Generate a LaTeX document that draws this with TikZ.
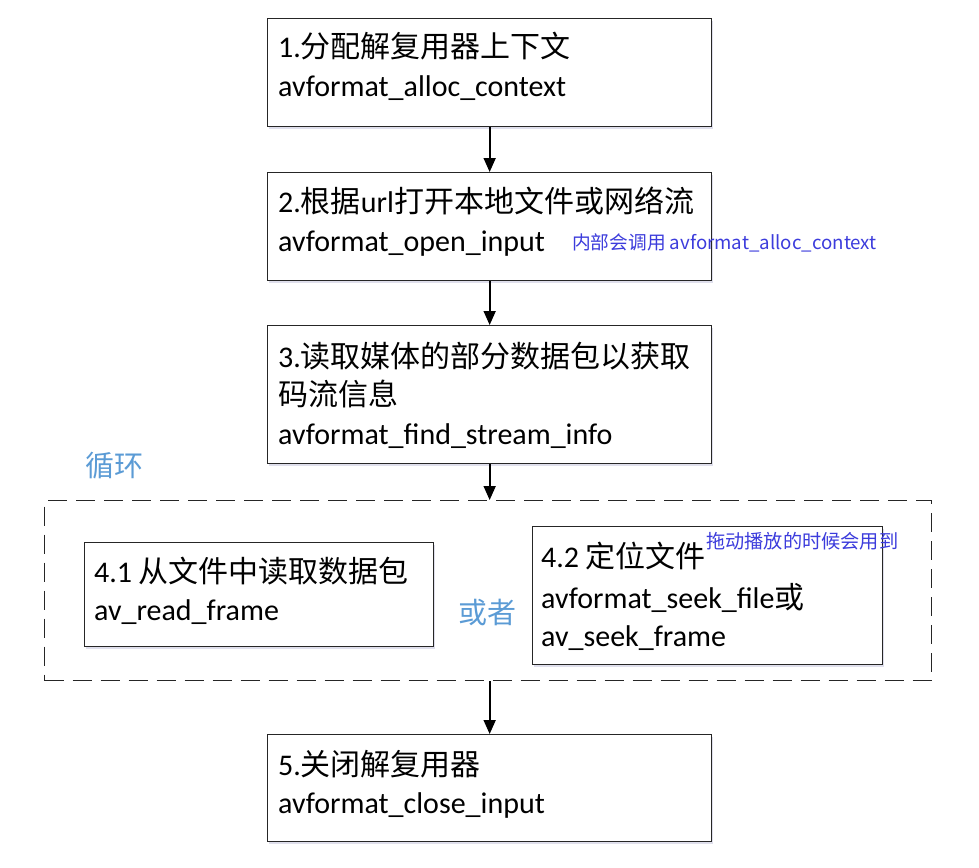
\documentclass[tikz,border=0pt]{standalone}
\usepackage{fontspec}
\setmainfont{Carlito}
\newfontfamily\cjk{Noto Sans CJK SC}
\usetikzlibrary{arrows.meta,shadows}
\definecolor{loopblue}{RGB}{91,155,213}
\definecolor{noteblue}{RGB}{60,60,220}
\definecolor{boxline}{RGB}{38,38,38}
\newcommand{\zh}[1]{{\cjk\fontsize{30}{36}\selectfont #1}}
\begin{document}
\begin{tikzpicture}[x=1pt,y=-1pt,
  box/.style={draw=boxline, line width=1.3pt, fill=white, anchor=north west, inner sep=0pt,
    drop shadow={shadow xshift=1pt, shadow yshift=-2.5pt, fill=blue!25!gray, opacity=0.2}},
  loopbox/.style={draw=boxline, line width=1.4pt, dash pattern=on 19pt off 9pt, anchor=north west, inner sep=0pt},
  txt/.style={anchor=base west, inner sep=0pt, font=\fontsize{30}{36}\selectfont},
  note/.style={anchor=base west, inner sep=0pt, text=noteblue, font=\cjk\fontsize{18.7}{23}\selectfont},
  tag/.style={anchor=base west, inner sep=0pt, text=loopblue, font=\cjk\fontsize{29}{35}\selectfont},
  arr/.style={line width=1.8pt, -{Triangle[length=14pt,width=12pt]}}]
\useasboundingbox (0,0) rectangle (979,867);

% loop frame
\node[loopbox, minimum width=887pt, minimum height=180pt] (loop) at (44,500) {};

% boxes
\node[box, minimum width=444pt, minimum height=108pt] (b1) at (267,18) {};
\node[box, minimum width=444pt, minimum height=108pt] (b2) at (267,172) {};
\node[box, minimum width=444pt, minimum height=138pt] (b3) at (267,325) {};
\node[box, minimum width=349pt, minimum height=104pt] (b41) at (84,542) {};
\node[box, minimum width=350pt, minimum height=138pt] (b42) at (532,526) {};
\node[box, minimum width=444pt, minimum height=107pt] (b5) at (267,734) {};

% texts
\node[txt] (t1a) at (278,58) {1.\zh{分配解复用器上下文}};
\node[txt] (t1b) at (278,96) {avformat\_alloc\_context};

\node[txt] (t2a) at (278,212) {2.\zh{根据}url\zh{打开本地文件或网络流}};
\node[txt] (t2b) at (278,251) {avformat\_open\_input};
\node[note] (n2) at (572,249) {内部会调用 avformat\_alloc\_context};

\node[txt] (t3a) at (278,367) {3.\zh{读取媒体的部分数据包以获取}};
\node[txt] (t3b) at (278,405) {\zh{码流信息}};
\node[txt] (t3c) at (278,444) {avformat\_find\_stream\_info};

\node[tag] (loopl) at (85,476) {循环};
\node[tag] (orl) at (458,623) {或者};

\node[txt] (t41a) at (94,582) {4.1 \zh{从文件中读取数据包}};
\node[txt] (t41b) at (94,620) {av\_read\_frame};

\node[txt] (t42a) at (541,567) {4.2 \zh{定位文件}};
\node[txt] (t42b) at (541,608) {avformat\_seek\_file\zh{或}};
\node[txt] (t42c) at (541,646) {av\_seek\_frame};
\node[note, font=\cjk\fontsize{19.2}{23}\selectfont] (n42) at (706,548) {拖动播放的时候会用到};

\node[txt] (t5a) at (278,775) {5.\zh{关闭解复用器}};
\node[txt] (t5b) at (278,813) {avformat\_close\_input};

% connectors
\draw[arr] (b1.south) -- (b2.north);
\draw[arr] (b2.south) -- (b3.north);
\draw[arr] (b3.south) -- (b3.south |- loop.north);
\draw[arr] (b5.north |- loop.south) -- (b5.north);
\end{tikzpicture}
\end{document}
